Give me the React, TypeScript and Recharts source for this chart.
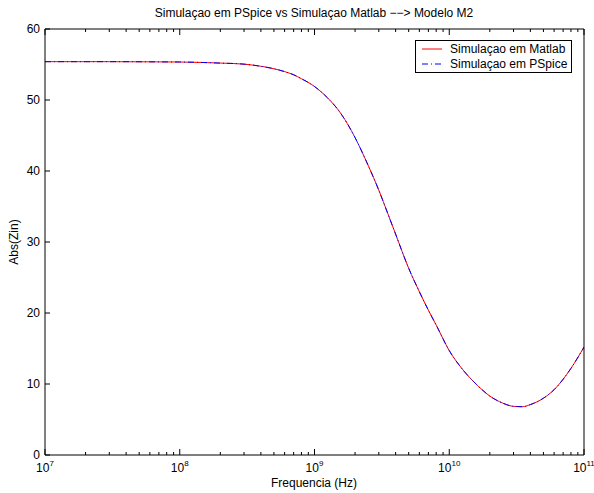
import { LineChart, Line, XAxis, YAxis, Legend } from 'recharts';

const FONT = '"Liberation Sans", Arial, Helvetica, sans-serif';

// frequencia (Hz) e |Zin|
const freqs = [
  1e7, 3e7, 1e8, 2e8, 3e8, 4e8, 5e8, 6e8, 7e8, 8e8,
  1e9, 1.25e9, 1.5e9, 1.75e9, 2e9, 2.5e9, 3e9, 3.5e9, 4e9, 5e9,
  6e9, 7e9, 8e9, 1e10, 1.25e10, 1.6e10, 2e10, 2.5e10, 3e10, 3.5e10,
  4e10, 5e10, 6e10, 8e10, 1e11,
];
const matlab = [
  55.4, 55.4, 55.35, 55.2, 55.05, 54.75, 54.4, 54.0, 53.55, 53.0,
  51.9, 50.3, 48.6, 46.7, 44.7, 40.8, 37.3, 34.0, 31.1, 26.3,
  23.0, 20.4, 18.3, 14.7, 12.1, 9.9, 8.3, 7.3, 6.85, 6.8,
  7.1, 8.0, 9.2, 12.2, 15.2,
];
const pspice = [
  55.4, 55.4, 55.35, 55.2, 55.05, 54.75, 54.4, 54.0, 53.55, 53.0,
  51.9, 50.3, 48.6, 46.7, 44.7, 40.8, 37.3, 34.0, 31.1, 26.3,
  23.0, 20.4, 18.3, 14.7, 12.1, 9.9, 8.3, 7.3, 6.85, 6.8,
  7.1, 8.0, 9.2, 12.2, 15.2,
];

const majorTicks = [1e7, 1e8, 1e9, 1e10, 1e11];
const minorMult = [2, 3, 4, 5, 6, 7, 8, 9];
const xTicks = [
  ...majorTicks,
  ...majorTicks.slice(0, -1).flatMap((d) => minorMult.map((m) => m * d)),
].sort((a, b) => a - b);
const yTicks = [0, 10, 20, 30, 40, 50, 60];

const title = 'Simulaçao em PSpice vs Simulaçao Matlab −−> Modelo M2';
const xLabel = 'Frequencia (Hz)';
const yLabel = 'Abs(Zin)';

const data = freqs.map((f, i) => ({ f, matlab: matlab[i], pspice: pspice[i] }));

const isMajor = (v: number) => {
  const e = Math.round(Math.log10(v));
  return Math.abs(v - 10 ** e) < 1;
};

const BottomTick = ({ x, y, payload }: any) => {
  const v = payload.value;
  const major = isMajor(v);
  const e = Math.round(Math.log10(v));
  return (
    <g>
      <line x1={x} x2={x} y1={y} y2={y - (major ? 6 : 3)} stroke="#000" />
      {major && (
        <text x={x} y={y + 17} textAnchor="middle" fontSize={12} fontFamily={FONT} fill="#000">
          <tspan>10</tspan>
          <tspan dy={-6} fontSize={8}>{e}</tspan>
        </text>
      )}
    </g>
  );
};

const TopTick = ({ x, y, payload }: any) => {
  const major = isMajor(payload.value);
  return <line x1={x} x2={x} y1={y} y2={y + (major ? 6 : 3)} stroke="#000" />;
};

const LeftTick = ({ x, y, payload }: any) => (
  <g>
    <line x1={x} x2={x + 5} y1={y} y2={y} stroke="#000" />
    <text x={x - 5} y={y + 4} textAnchor="end" fontSize={12} fontFamily={FONT} fill="#000">
      {payload.value}
    </text>
  </g>
);

const RightTick = ({ x, y }: any) => <line x1={x} x2={x - 5} y1={y} y2={y} stroke="#000" />;

const LegendBox = ({ payload }: any) => (
  <div style={{ border: '1px solid #000', background: '#fff', width: 155, height: 31 }}>
    <svg width={155} height={31} style={{ display: 'block' }}>
      {(payload || []).map((p: any, i: number) => (
        <g key={i}>
          <line
            x1={6}
            x2={26}
            y1={8 + i * 15}
            y2={8 + i * 15}
            stroke={p.color}
            strokeDasharray={p.payload?.strokeDasharray}
          />
          <text x={34} y={12 + i * 15} fontSize={12} fontFamily={FONT} fill="#000">
            {p.value}
          </text>
        </g>
      ))}
    </svg>
  </div>
);

export default function App() {
  return (
    <div style={{ width: 594, height: 493, background: '#fff' }}>
      <style>{'body{margin:0;background:#fff}'}</style>
      <LineChart width={594} height={493} data={data} margin={{ top: 9, right: 5, bottom: 8, left: 10 }}>
        <XAxis
          xAxisId="bottom"
          dataKey="f"
          type="number"
          scale="log"
          domain={[1e7, 1e11]}
          allowDataOverflow
          ticks={xTicks}
          interval={0}
          height={30}
          tickSize={0}
          tickMargin={0}
          tick={<BottomTick />}
          axisLine={{ stroke: '#000' }}
          tickLine={false}
          label={{
            content: () => (
              <text x={314} y={487} textAnchor="middle" fontSize={12} fontFamily={FONT} fill="#000">
                {xLabel}
              </text>
            ),
          }}
        />
        <XAxis
          xAxisId="top"
          orientation="top"
          dataKey="f"
          type="number"
          scale="log"
          domain={[1e7, 1e11]}
          allowDataOverflow
          ticks={xTicks}
          interval={0}
          height={20}
          tickSize={0}
          tickMargin={0}
          tick={<TopTick />}
          axisLine={{ stroke: '#000' }}
          tickLine={false}
          label={{
            content: () => (
              <text x={314} y={17} textAnchor="middle" fontSize={12} fontFamily={FONT} fill="#000">
                {title}
              </text>
            ),
          }}
        />
        <YAxis
          yAxisId="left"
          type="number"
          domain={[0, 60]}
          ticks={yTicks}
          interval={0}
          width={35}
          tickSize={0}
          tickMargin={0}
          tick={<LeftTick />}
          axisLine={{ stroke: '#000' }}
          tickLine={false}
          label={{
            content: () => (
              <text
                x={18}
                y={242}
                textAnchor="middle"
                fontSize={12}
                fontFamily={FONT}
                fill="#000"
                transform="rotate(-90 18 242)"
              >
                {yLabel}
              </text>
            ),
          }}
        />
        <YAxis
          yAxisId="right"
          orientation="right"
          type="number"
          domain={[0, 60]}
          ticks={yTicks}
          interval={0}
          width={5}
          tickSize={0}
          tickMargin={0}
          tick={<RightTick />}
          axisLine={{ stroke: '#000' }}
          tickLine={false}
        />
        <Legend
          layout="vertical"
          align="center"
          verticalAlign="middle"
          content={<LegendBox />}
          wrapperStyle={{ left: 415, top: 40, width: 157, height: 33 }}
        />
        <Line
          xAxisId="bottom"
          yAxisId="left"
          type="monotone"
          dataKey="matlab"
          name="Simulaçao em Matlab"
          stroke="#ff0000"
          strokeWidth={1}
          dot={false}
          isAnimationActive={false}
        />
        <Line
          xAxisId="bottom"
          yAxisId="left"
          type="monotone"
          dataKey="pspice"
          name="Simulaçao em PSpice"
          stroke="#0000ff"
          strokeWidth={1}
          strokeDasharray="6 3 1 3"
          dot={false}
          isAnimationActive={false}
        />
      </LineChart>
    </div>
  );
}
